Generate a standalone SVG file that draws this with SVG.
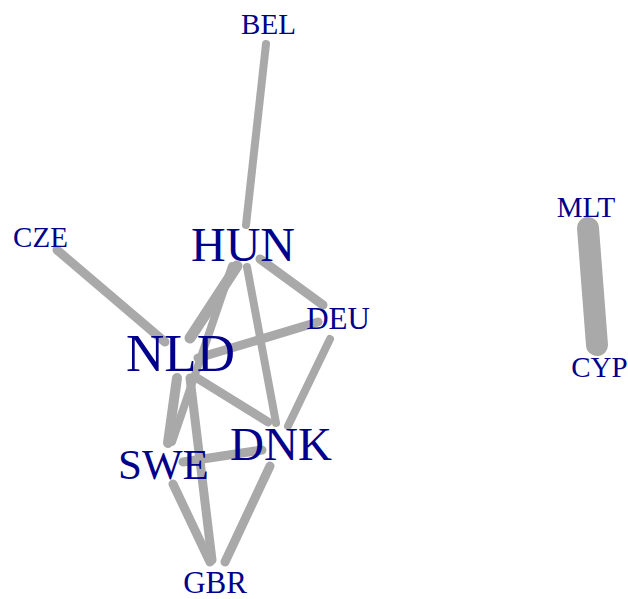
<svg xmlns="http://www.w3.org/2000/svg" width="628" height="599" viewBox="0 0 628 599">
<style>
.e{stroke:#A9A9A9;stroke-linecap:round;fill:none}
.l{font-family:"Liberation Serif","Times New Roman",serif;fill:#00008B;text-anchor:middle}
</style>
<rect width="628" height="599" fill="#fff"/>
<g id="edges">
<line class="e" x1="266" y1="44" x2="246" y2="225" stroke-width="8"/>
<line class="e" x1="57" y1="250" x2="165" y2="342" stroke-width="9"/>
<line class="e" x1="237" y1="266" x2="190" y2="338" stroke-width="11"/>
<line class="e" x1="232" y1="266" x2="172" y2="442" stroke-width="8"/>
<line class="e" x1="260" y1="259" x2="323" y2="305" stroke-width="9"/>
<line class="e" x1="247" y1="267" x2="276" y2="423" stroke-width="8"/>
<line class="e" x1="198" y1="358" x2="318" y2="322" stroke-width="9"/>
<line class="e" x1="330" y1="339" x2="288" y2="426" stroke-width="8"/>
<line class="e" x1="197" y1="378" x2="268" y2="422" stroke-width="9"/>
<line class="e" x1="177" y1="378" x2="168" y2="443" stroke-width="10"/>
<line class="e" x1="190" y1="378" x2="212" y2="560" stroke-width="9"/>
<line class="e" x1="183" y1="462" x2="262" y2="450" stroke-width="9"/>
<line class="e" x1="173" y1="484" x2="210" y2="562" stroke-width="9"/>
<line class="e" x1="270" y1="466" x2="225" y2="562" stroke-width="9"/>
<line class="e" x1="588" y1="228" x2="597" y2="345" stroke-width="22"/>
</g>
<g id="BEL"><text class="l" x="268.5" y="34" font-size="29">BEL</text></g>
<g id="CZE"><text class="l" x="40.5" y="247" font-size="29">CZE</text></g>
<g id="HUN"><text class="l" x="243" y="261" font-size="48">HUN</text></g>
<g id="NLD"><text class="l" x="180.5" y="371" font-size="53">NLD</text></g>
<g id="DEU"><text class="l" x="338" y="329" font-size="31">DEU</text></g>
<g id="DNK"><text class="l" x="281" y="460" font-size="47">DNK</text></g>
<g id="SWE"><text class="l" x="163.5" y="479" font-size="43">SWE</text></g>
<g id="GBR"><text class="l" x="215" y="593" font-size="31">GBR</text></g>
<g id="MLT"><text class="l" x="586" y="217" font-size="29">MLT</text></g>
<g id="CYP"><text class="l" x="599.5" y="377" font-size="29">CYP</text></g>
</svg>
